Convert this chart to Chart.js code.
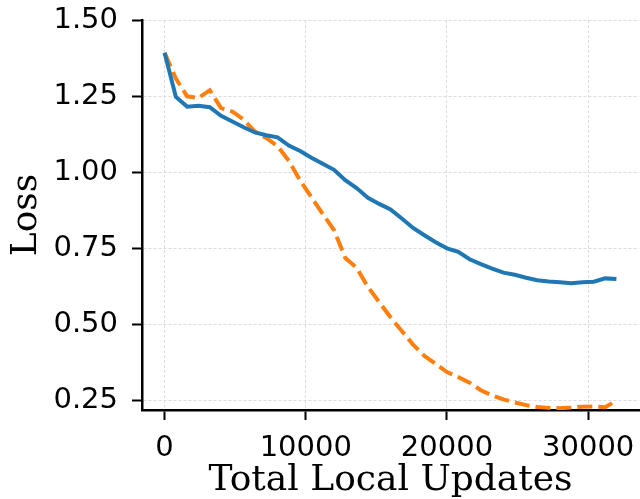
<!DOCTYPE html>
<html>
<head>
<meta charset="utf-8">
<script src="https://cdn.jsdelivr.net/npm/chart.js@4/dist/chart.umd.min.js"></script>
<style>
  html, body { margin: 0; padding: 0; background: #fff; }
  #wrap { width: 640px; height: 499px; }
</style>
</head>
<body>
<div id="wrap"><canvas id="lossChart" width="640" height="499"></canvas></div>
<script>
// total local updates at each logged point
const steps = [0, 800, 1600, 2400, 3200, 4000, 4800, 5600, 6400, 7200,
  8000, 8800, 9600, 10400, 11200, 12000, 12800, 13600, 14400, 15200,
  16000, 16800, 17600, 18400, 19200, 20000, 20800, 21600, 22400, 23200,
  24000, 24800, 25600, 26400, 27200, 28000, 28800, 29600, 30400, 31200, 32000];

// solid blue curve
const lossBlue = [1.395, 1.25, 1.218, 1.221, 1.216, 1.188, 1.169, 1.150, 1.133, 1.124,
  1.117, 1.090, 1.072, 1.050, 1.030, 1.010, 0.976, 0.950, 0.918, 0.898,
  0.880, 0.850, 0.819, 0.795, 0.772, 0.752, 0.740, 0.716, 0.700, 0.685,
  0.672, 0.665, 0.655, 0.647, 0.643, 0.640, 0.637, 0.640, 0.642, 0.653, 0.651];

// dashed orange curve
const lossOrange = [1.395, 1.31, 1.252, 1.246, 1.272, 1.213, 1.202, 1.175, 1.136, 1.115,
  1.088, 1.040, 0.975, 0.920, 0.865, 0.812, 0.720, 0.688, 0.625, 0.575,
  0.525, 0.480, 0.435, 0.398, 0.372, 0.345, 0.328, 0.310, 0.285, 0.268,
  0.255, 0.245, 0.236, 0.230, 0.227, 0.226, 0.228, 0.231, 0.232, 0.229, 0.251];

const xTicks = [0, 10000, 20000, 30000];
const yTicks = [0.25, 0.50, 0.75, 1.00, 1.25, 1.50];

const toPoints = ys => steps.map((s, i) => ({ x: s, y: ys[i] }));

const tickFont = { family: 'DejaVu Sans', size: 29 };
const titleFont = { family: 'DejaVu Serif', size: 36, lineHeight: 1 };
const gridStyle = {
  color: '#dcdcdc',
  lineWidth: 1,
  tickColor: '#000',
  tickWidth: 2,
  tickLength: 10,
  tickBorderDash: []
};
// border.dash in v4 dashes the grid lines, not the spine
const borderStyle = { color: '#000', width: 2.5, dash: [3, 2] };

const ctx = document.getElementById('lossChart').getContext('2d');
new Chart(ctx, {
  type: 'line',
  data: {
    datasets: [{
      label: 'A',
      data: toPoints(lossBlue),
      borderColor: '#1f77b4',
      borderWidth: 4,
      pointRadius: 0,
      tension: 0
    }, {
      label: 'B',
      data: toPoints(lossOrange),
      borderColor: '#ff7f0e',
      borderWidth: 4,
      borderDash: [15, 6],
      pointRadius: 0,
      tension: 0
    }]
  },
  options: {
    responsive: false,
    animation: false,
    devicePixelRatio: 1,
    layout: { padding: { top: 20, right: 1, left: 0, bottom: 0 } },
    plugins: { legend: { display: false }, tooltip: { enabled: false } },
    scales: {
      x: {
        type: 'linear',
        min: -1600,
        max: 33600,
        afterBuildTicks: scale => { scale.ticks = xTicks.map(v => ({ value: v })); },
        afterFit: scale => {
          scale.height = 89;
          scale.paddingLeft = 0;
          scale.paddingRight = 0;
        },
        ticks: { font: tickFont, color: '#000', padding: 11, maxRotation: 0, callback: v => String(v) },
        grid: gridStyle,
        border: borderStyle,
        title: { display: true, text: 'Total Local Updates', font: titleFont, color: '#000', padding: 0 }
      },
      y: {
        min: 0.22,
        max: 1.503,
        afterBuildTicks: scale => { scale.ticks = yTicks.map(v => ({ value: v })); },
        afterFit: scale => {
          scale.width = 142;
          scale.paddingTop = 0;
          scale.paddingBottom = 0;
        },
        ticks: { font: tickFont, color: '#000', padding: 14, callback: v => v.toFixed(2) },
        grid: gridStyle,
        border: borderStyle,
        title: { display: true, text: 'Loss', font: titleFont, color: '#000', padding: { top: 9, bottom: 0 } }
      }
    }
  }
});
</script>
</body>
</html>
